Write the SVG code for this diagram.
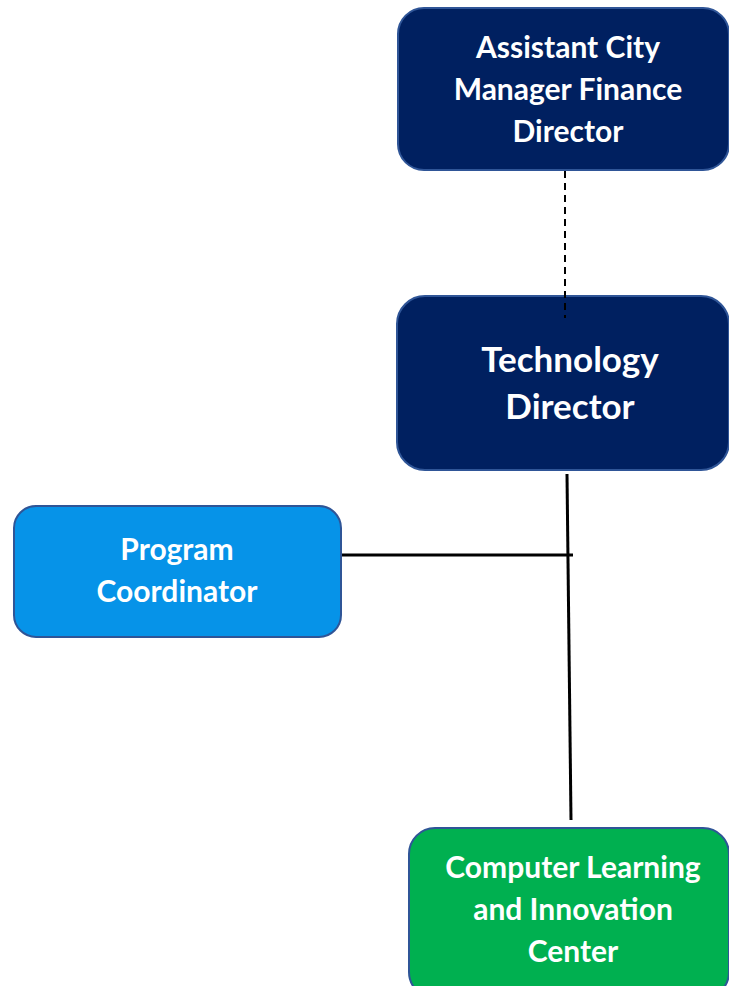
<svg xmlns="http://www.w3.org/2000/svg" width="729" height="986" viewBox="0 0 729 986">
  <style>
    .box { stroke: #2f5597; stroke-width: 2; }
    .navy { fill: #002060; }
    .sky { fill: #0693e8; }
    .green { fill: #00b050; }
    .label { font-family: Lato, "Liberation Sans", sans-serif; font-weight: bold; fill: #ffffff; text-anchor: middle; }
    .link { stroke: #000000; stroke-width: 3; fill: none; }
    .dotted { stroke: #000000; stroke-width: 2; stroke-dasharray: 7 5; fill: none; }
  </style>
  <rect width="729" height="986" fill="#ffffff"/>

  <g id="asst-city-manager">
    <rect class="box navy" x="398" y="8" width="331" height="162" rx="26"/>
    <text class="label" font-size="30"><tspan x="568" y="58">Assistant City</tspan><tspan x="568" y="100">Manager Finance</tspan><tspan x="568" y="142">Director</tspan></text>
  </g>

  <g id="technology-director">
    <rect class="box navy" x="397" y="296" width="332" height="174" rx="28"/>
    <text class="label" font-size="35"><tspan x="570" y="372">Technology</tspan><tspan x="570" y="419">Director</tspan></text>
  </g>

  <g id="program-coordinator">
    <rect class="box sky" x="14" y="506" width="327" height="131" rx="22"/>
    <text class="label" font-size="30"><tspan x="177" y="560">Program</tspan><tspan x="177" y="602">Coordinator</tspan></text>
  </g>

  <g id="clic">
    <rect class="box green" x="409" y="828" width="320" height="170" rx="26"/>
    <text class="label" font-size="30"><tspan x="573" y="878">Computer Learning</tspan><tspan x="573" y="920">and Innovation</tspan><tspan x="573" y="962">Center</tspan></text>
  </g>

  <!-- connectors, drawn on top so the dotted line runs into the box edge -->
  <g id="connectors">
    <line class="dotted" x1="565" y1="171" x2="565" y2="318"/>
    <line class="link" x1="567" y1="474" x2="571" y2="820"/>
    <line class="link" x1="342" y1="555" x2="573" y2="555"/>
  </g>
</svg>
